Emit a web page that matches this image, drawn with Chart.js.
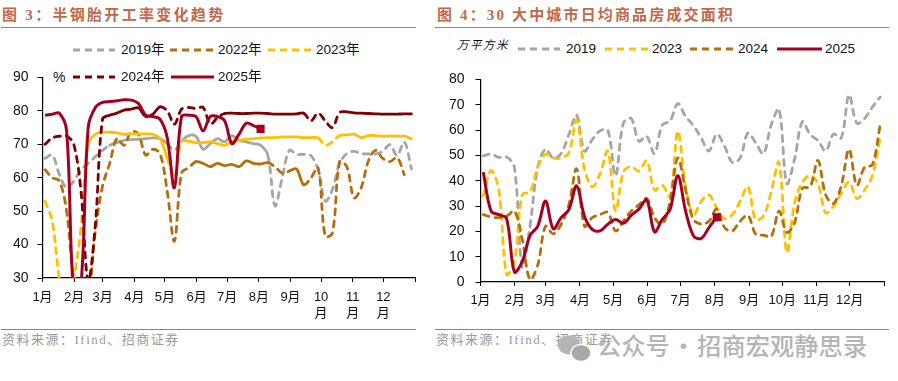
<!DOCTYPE html>
<html>
<head>
<meta charset="utf-8">
<script src="https://cdn.jsdelivr.net/npm/chart.js@4/dist/chart.umd.js"></script>
<style>
  body { margin: 0; background: #fff; width: 898px; height: 381px; overflow: hidden; position: relative; font-family: "Liberation Sans", "Noto Sans CJK SC", sans-serif; }
  canvas { position: absolute; }
  .abs { position: absolute; white-space: nowrap; }
  .title { top: 5px; font: bold 15px/20px "Liberation Serif", "Noto Sans CJK SC", serif; letter-spacing: 2.3px; color: #C0694A; }
  .rule { height: 1px; background: #C0745A; }
  .source { top: 331px; font: 13px/18px "Liberation Serif", "Noto Sans CJK SC", serif; letter-spacing: 1.5px; color: #9a9a9a; }
  .wm { left: 597px; top: 328px; font: 500 24.3px/34px "Noto Sans CJK SC", sans-serif; word-spacing: -4px; color: #b4b4b4; }
  .lg { font-size: 13.5px; line-height: 16px; color: #111; }
</style>
</head>
<body>
<div class="abs title" style="left:2px">图 3：半钢胎开工率变化趋势</div>
<div class="abs title" style="left:437px;letter-spacing:2.15px">图 4：30 大中城市日均商品房成交面积</div>
<div class="abs rule" style="left:1px;top:27px;width:415px"></div>
<div class="abs rule" style="left:435px;top:27px;width:454px"></div>
<div class="abs rule" style="left:1px;top:329px;width:415px"></div>
<div class="abs rule" style="left:435px;top:329px;width:454px"></div>
<div class="abs source" style="left:2px">资料来源：Ifind、招商证券</div>
<div class="abs source" style="left:436px">资料来源：Ifind、招商证券</div>
<div class="abs" style="left:53px;top:68px;font-size:14px;line-height:18px;color:#111">%</div>
<div class="abs" style="left:457px;top:37px;font-size:11.5px;line-height:16px;font-style:italic;letter-spacing:1.5px;color:#111">万平方米</div>
<svg class="abs" style="left:555px;top:332px" width="40" height="36">
  <ellipse cx="14" cy="13" rx="11" ry="9.5" fill="#b4b4b4"/>
  <ellipse cx="26" cy="21" rx="10" ry="8.5" fill="#a8a8a8" stroke="#fff" stroke-width="1.5"/>
</svg>
<div class="abs wm">公众号 · 招商宏观静思录</div>
<canvas id="tyre" style="left:0;top:60px"></canvas>
<canvas id="sales" style="left:435px;top:60px"></canvas>

<script>
const monthStarts = [1, 32, 60, 91, 121, 152, 182, 213, 244, 274, 305, 335, 366];
const tyreMonths = ['1月', '2月', '3月', '4月', '5月', '6月', '7月', '8月', '9月', ['10', '月'], ['11', '月'], ['12', '月'], ''];
const salesMonths = ['1月', '2月', '3月', '4月', '5月', '6月', '7月', '8月', '9月', '10月', '11月', '12月', ''];

// 半钢胎开工率, one value per week
const tyre2019 = [65.8, 66.8, 60.9, 57, 59, 62.4, 64.3, 66.3, 68.2, 69.7, 70.5, 71.2, 71.4, 71.5, 71.7, 71.9, 71.7, 70.2, 68.2, 70.9, 72.6, 72.4, 68.5, 70.2, 71.7, 70.7, 72.6, 71.2, 70.7, 70.2, 69.7, 66.8, 51.6, 59.9, 68.2, 67, 67, 66.6, 62.4, 53, 56.5, 64.3, 67.2, 67.9, 67.2, 67.1, 67.1, 67.9, 69.9, 66.6, 70.7, 62.6];
const tyre2022 = [62.4, 60, 59, 50, 30, 24, 25, 44, 57.5, 64.3, 71.7, 69.7, 73.8, 73, 66.8, 68.5, 67.2, 56, 41, 61.4, 63, 64.8, 64.3, 63.3, 64.3, 63.6, 64, 63.3, 65, 64.3, 64.1, 64.5, 63.3, 61.4, 62, 62.6, 57.9, 59.9, 63, 42.5, 43.5, 64.8, 63.3, 54, 57, 65, 68.2, 65.8, 64.8, 66, 60.9, null];
const tyre2023 = [53, 47, 29.5, 20, 29.5, 45, 70, 73, 73.6, 73.6, 73.4, 73, 73.1, 73.1, 73.1, 73, 71.7, 66, 60, 70.9, 70.9, 70.5, 70.5, 70.7, 70.2, 69.7, 70.7, 71.2, 71.5, 71.7, 71.9, 72, 72, 72.2, 72.2, 72.2, 72, 72, 71.9, 69.7, 70.7, 72.6, 72.8, 73, 72, 72.6, 72.6, 72.4, 72.5, 72.4, 72.4, 71.7];
const tyre2024 = [70, 71.9, 72.4, 72.5, 70, 56, 29, 46, 77.5, 78.7, 79.3, 80.2, 80.5, 80.9, 78.3, 79, 81.2, 80, 76, 80.5, 81, 80.7, 81, 76, 78, 79.2, 79.3, 79.2, 79.2, 79.3, 79.3, 79.2, 79, 79, 79, 79.1, 79.3, 77, 79.3, 77, 75, 79.5, 79.7, 79.4, 79.3, 79.2, 79.1, 79, 79, 79, 79.1, 79.1];
const tyre2025 = [78.7, 79, 79.3, 74, 25, 28, 75, 81, 82.5, 82.8, 83, 83.3, 83.2, 82.2, 78.7, 78.3, 77.5, 72, 57, 78.3, 78.7, 78.3, 74, 78.3, 78.3, 77, 70.2, 73, 76.3, 75.6, 74.6];

// 30大中城市日均成交面积, one value per week
const sales2019 = [49.8, 50.5, 49.2, 49.4, 45.3, 6, 22, 45.3, 52.4, 48.9, 50.7, 58.2, 65.9, 51.7, 56.2, 59.7, 60, 42, 62.7, 64.6, 55.6, 57.5, 50.7, 62, 63.6, 70.4, 65.3, 61.8, 56.9, 51.7, 58.4, 53.7, 47.2, 48.9, 58.8, 55, 50.7, 62, 68.2, 38.9, 48.5, 63.3, 58.2, 55.9, 51.7, 58.4, 56.9, 73.9, 62.7, 64.6, 69.1, 73];
const sales2023 = [34, 44, 36.3, 3, 8, 34.4, 35.6, 45.3, 50.5, 48.9, 49, 51, 64, 44.7, 37.6, 42.7, 51.7, 28, 43.4, 45.6, 43.8, 47.9, 36.3, 38.2, 33.7, 59.5, 37.6, 26.6, 31.8, 34.4, 29.2, 25, 26.6, 31.8, 37.6, 24.7, 26, 35.6, 47.2, 11.8, 31, 39.5, 42, 38.9, 27.3, 29.9, 35, 39.5, 33, 36.3, 42, 56.9];
const sales2024 = [26.6, 25.7, 25.4, 26, 28, 17, 1, 6.7, 22, 19, 22.8, 30.5, 44.7, 22, 25.4, 26.6, 27.5, 20.2, 24, 28, 30.5, 33, 25.4, 22.8, 31.8, 49, 36.3, 24.7, 22.9, 24, 28.8, 21.5, 20.2, 24, 26.3, 18.9, 18.5, 18, 28, 19.6, 23.4, 37, 37.6, 48, 34.4, 31, 38, 52.4, 38.2, 45.3, 46.3, 62];
const sales2025 = [43.4, 28, 26.6, 25, 4, 8, 18.3, 22, 32, 21, 25.4, 28.6, 38, 26, 20.8, 20.2, 22.8, 24.7, 23.2, 26.3, 28.8, 32.4, 19.8, 24.7, 28.6, 42, 28, 18.3, 17.2, 21.5, 25.6];

const GREY = '#A5A5A5', BROWN = '#B46F0A', YELLOW = '#FFC000', DARK = '#7F0000', CRIMSON = '#A50021';
const FONT = '"Liberation Sans", "Noto Sans CJK SC", sans-serif';
const DASH = [6, 6];

// weeks to day of year
const toPoints = (vals) => vals.map((y, i) => ({ x: 3.5 + i * 7.04, y }));

// stretches where the dashes close up in the original
const dashedExcept = (solid) => (ctx) =>
  solid.some(([a, b]) => ctx.p0DataIndex >= a && ctx.p0DataIndex < b) ? [] : DASH;

const dashed = (label, vals, color, order, solid = []) => ({
  label, order, data: toPoints(vals), borderColor: color, backgroundColor: color,
  borderWidth: 2.8, borderDash: DASH, borderCapStyle: 'round', pointRadius: 0, tension: 0.35,
  spanGaps: false, segment: { borderDash: dashedExcept(solid) }
});

const current = (label, vals) => ({
  label, order: 0, data: toPoints(vals), borderColor: CRIMSON, backgroundColor: CRIMSON,
  borderWidth: 3, pointStyle: 'rect', pointBorderWidth: 0, tension: 0.35,
  pointRadius: (ctx) => ctx.dataIndex === vals.length - 1 ? 5.7 : 0
});

// area = wanted plot box inside the canvas
const makeChart = (id, w, h, area, datasets, yMin, yMax, labels, yPad, xPad) => {
  const el = document.getElementById(id);
  el.style.width = w + 'px';
  el.style.height = h + 'px';
  const pad = { top: 5, right: w - area.right, bottom: 0, left: 0 };
  let xHeight = h - area.bottom;
  const chart = new Chart(el, {
    type: 'line',
    data: { datasets },
    options: {
      responsive: false, animation: false, devicePixelRatio: 1,
      layout: { padding: pad },
      plugins: { legend: { display: false }, tooltip: { enabled: false } },
      scales: {
        x: {
          type: 'linear', min: 1, max: 366,
          afterBuildTicks: (s) => { s.ticks = monthStarts.map((value) => ({ value })); },
          afterFit: (s) => { s.height = xHeight; },
          grid: { drawOnChartArea: false, tickLength: 4, color: '#000' },
          border: { color: '#000', width: 1.2 },
          ticks: {
            autoSkip: false, maxRotation: 0, padding: xPad, color: '#111', font: { family: FONT, size: 13 },
            callback: (v, i) => labels[i]
          }
        },
        y: {
          min: yMin, max: yMax,
          afterFit: (s) => { s.width = area.left; },
          grid: { drawOnChartArea: false, tickLength: 5, color: '#000' },
          border: { color: '#000', width: 1.2 },
          ticks: { stepSize: 10, padding: yPad, color: '#111', font: { family: FONT, size: 14 } }
        }
      }
    }
  });
  // the layout adds label overhang, so correct once against the real plot box
  const a = chart.chartArea;
  chart.options.layout.padding = {
    top: pad.top + area.top - a.top,
    right: pad.right + a.right - area.right,
    bottom: 0,
    left: area.left - a.left
  };
  xHeight += a.bottom - area.bottom;
  chart.update();
  return chart;
};

const tyreSets = [
  dashed('2019年', tyre2019, GREY, 4, [[9, 17], [19, 31]]),
  dashed('2022年', tyre2022, BROWN, 3, [[21, 31], [34, 36]]),
  dashed('2023年', tyre2023, YELLOW, 2, [[6, 17], [19, 38], [41, 51]]),
  dashed('2024年', tyre2024, DARK, 1, [[8, 16], [25, 36], [42, 51]]),
  current('2025年', tyre2025)
];
const salesSets = [
  dashed('2019', sales2019, GREY, 3),
  dashed('2023', sales2023, YELLOW, 2),
  dashed('2024', sales2024, BROWN, 1),
  current('2025', sales2025)
];

makeChart('tyre', 430, 270, { left: 42.5, right: 415, top: 15, bottom: 218 }, tyreSets, 30, 90, tyreMonths, 9, 8);
makeChart('sales', 463, 270, { left: 45.5, right: 449, top: 15, bottom: 222 }, salesSets, 0, 80, salesMonths, 11, 7);

// legends, [label, colour, dashed, lineLeft, lineRight, textLeft, y]
const legendRows = [
  ['2019年', GREY, 1, 73, 115, 121, 50], ['2022年', BROWN, 1, 170, 214, 218, 50], ['2023年', YELLOW, 1, 268, 311, 316, 50],
  ['2024年', DARK, 1, 73, 115, 121, 77], ['2025年', CRIMSON, 0, 171, 214, 218, 77],
  ['2019', GREY, 1, 518, 560, 566, 49], ['2023', YELLOW, 1, 605, 648, 652, 49],
  ['2024', BROWN, 1, 690, 734, 738, 49], ['2025', CRIMSON, 0, 777, 822, 825, 49]
];
legendRows.forEach(([label, color, isDashed, x0, x1, tx, y]) => {
  const len = x1 - x0;
  const dash = isDashed ? 'stroke-dasharray="7 5"' : '';
  document.body.insertAdjacentHTML('beforeend',
    `<svg class="abs" style="left:${x0}px;top:${y - 3}px" width="${len}" height="6"><line x1="0" x2="${len}" y1="3" y2="3" stroke="${color}" stroke-width="3" ${dash}/></svg>` +
    `<div class="abs lg" style="left:${tx}px;top:${y - 8}px">${label}</div>`);
});
</script>
</body>
</html>
